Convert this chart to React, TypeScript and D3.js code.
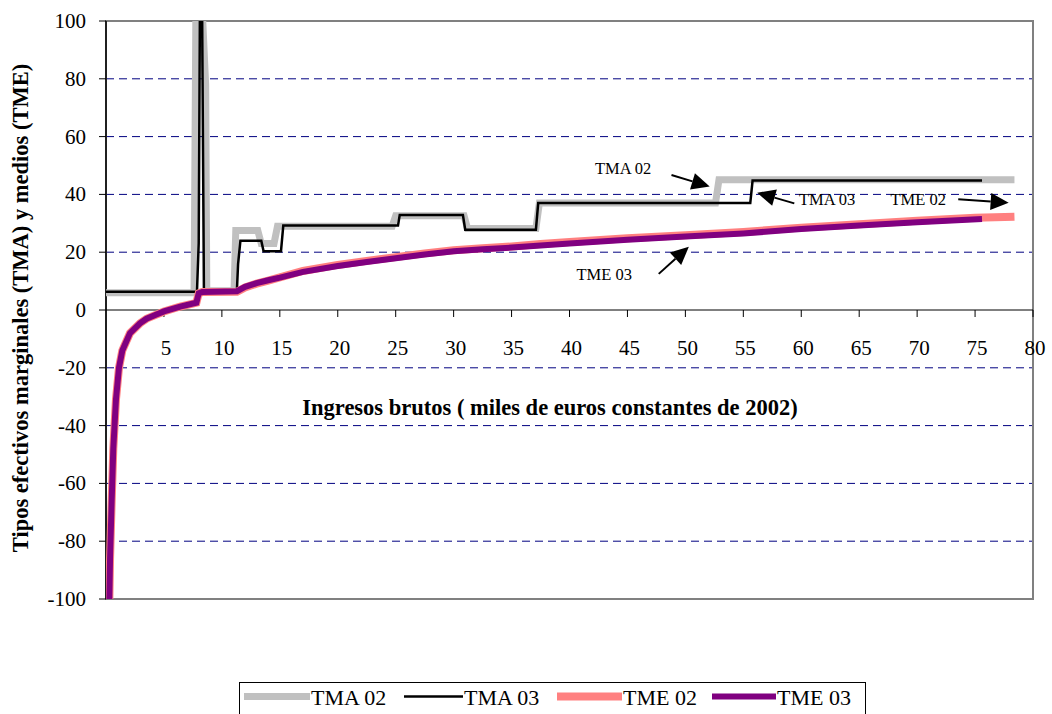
import React from "react";
import * as d3 from "d3";

// ---- data ----
const tma02X = [0, 7.6, 7.75, 8.35, 8.6, 8.7, 11.05, 11.2, 13.1, 13.4, 14.5, 14.8, 24.7, 25.0, 30.9, 31.2, 37.1, 37.4, 52.6, 52.9, 78.4];
const tma02Y = [6, 6, 100, 100, 78, 6.7, 6.7, 27.5, 27.5, 23, 23, 29, 29, 32.6, 32.6, 28.2, 28.2, 37, 37, 45.1, 45.1];

const tma03X = [0, 7.85, 8.0, 8.1, 8.3, 8.45, 11.3, 11.4, 11.6, 13.4, 13.6, 15.1, 15.3, 25.2, 25.35, 30.8, 31.0, 37.1, 37.3, 55.6, 55.8, 75.6];
const tma03Y = [6.3, 6.3, 23, 100, 100, 7, 7, 16, 24, 24, 20.3, 20.3, 29.2, 29.2, 32.9, 32.9, 27.8, 27.8, 37, 37, 44.8, 44.8];

const tme03X = [0.29, 0.35, 0.49, 0.63, 0.86, 1.12, 1.41, 2.07, 2.93, 3.5, 4.4, 5, 6.4, 7.8, 8.0, 8.3, 11.3, 12, 13, 14, 15, 17, 20, 22.5, 25, 27.5, 30, 32.5, 35, 37.5, 40, 45, 50, 55, 60, 65, 70, 75.6];
const tme03Y = [-100, -86, -66, -48, -31, -20, -14, -8, -4.6, -3, -1.5, -0.5, 1.2, 2.5, 5.8, 6.2, 6.5, 8, 9.3, 10.3, 11.2, 13.2, 15.2, 16.6, 17.9, 19.2, 20.3, 21.0, 21.6, 22.3, 23.0, 24.3, 25.4, 26.5, 28.0, 29.2, 30.4, 31.5];

const tme02X = [0.29, 0.35, 0.49, 0.63, 0.86, 1.12, 1.41, 2.07, 2.93, 3.5, 4.4, 5, 6.4, 7.8, 8.0, 8.3, 11.3, 12, 13, 14, 15, 17, 20, 22.5, 25, 27.5, 30, 32.5, 35, 37.5, 40, 45, 50, 55, 60, 65, 70, 75, 78.4];
const tme02Y = [-100, -86, -66, -48, -31, -20, -14, -8, -4.6, -3, -1.5, -0.5, 1.2, 2.5, 5.8, 6.2, 6.3, 7.8, 9.1, 10.2, 11.3, 13.5, 15.6, 17.0, 18.3, 19.6, 20.7, 21.4, 22.0, 22.8, 23.5, 24.8, 25.9, 27.0, 28.5, 29.7, 30.9, 31.9, 32.3];

const xTicks = [5, 10, 15, 20, 25, 30, 35, 40, 45, 50, 55, 60, 65, 70, 75, 80];
const yTicks = [100, 80, 60, 40, 20, 0, -20, -40, -60, -80, -100];
const gridValues = [80, 60, 40, 20, -20, -40, -60, -80];

const seriesNames = ["TMA 02", "TMA 03", "TME 02", "TME 03"];
const seriesColors = ["#C0C0C0", "#000000", "#FF8080", "#800080"];
const seriesWidths = [7, 2.5, 8, 6];

// annotations: label, text anchor point (data), arrow start, arrow end (data)
const annLabels = ["TMA 02", "TMA 03", "TME 02", "TME 03"];
const annTextX = [42.2, 59.8, 67.7, 40.6];
const annTextY = [47.1, 36.3, 36.3, 10.4];
const annFromX = [48.8, 59.4, 73.55, 47.7];
const annFromY = [46.7, 36.9, 38.3, 12.5];
const annToX = [52.1, 56.2, 77.9, 50.3];
const annToY = [42.7, 40.6, 37.1, 21.9];

const xTitle = "Ingresos brutos ( miles de euros constantes de 2002)";
const yTitle = "Tipos efectivos marginales (TMA) y medios (TME)";

// ---- layout ----
const W = 1052, H = 714;
const L = 106, R = 1033, T = 21, B = 599;
const FONT = "'Liberation Serif', 'Times New Roman', serif";

export default function App() {
  const x = d3.scaleLinear().domain([0, 80]).range([L, R]);
  const y = d3.scaleLinear().domain([-100, 100]).range([B, T]);
  const line = d3.line<[number, number]>().x(d => x(d[0])).y(d => y(d[1]));

  const series = [
    tma02X.map((v, i) => [v, tma02Y[i]] as [number, number]),
    tma03X.map((v, i) => [v, tma03Y[i]] as [number, number]),
    tme02X.map((v, i) => [v, tme02Y[i]] as [number, number]),
    tme03X.map((v, i) => [v, tme03Y[i]] as [number, number]),
  ];

  const arrows = annLabels.map((lab, i) => {
    const x1 = x(annFromX[i]), y1 = y(annFromY[i]);
    const x2 = x(annToX[i]), y2 = y(annToY[i]);
    const dx = x2 - x1, dy = y2 - y1;
    const len = Math.hypot(dx, dy);
    const ux = dx / len, uy = dy / len;
    const hl = 18, hw = 8.5;
    const bx = x2 - ux * hl, by = y2 - uy * hl;
    const pts = [
      [x2, y2],
      [bx - uy * hw, by + ux * hw],
      [bx + uy * hw, by - ux * hw],
    ];
    return { lab, x1, y1, bx, by, pts, tx: x(annTextX[i]), ty: y(annTextY[i]) };
  });

  // legend layout
  const legSwX = [244, 404, 557, 712];
  const legSwW = [66, 59, 65, 64];

  return (
    <svg width={W} height={H} style={{ position: "fixed", left: 0, top: 0, background: "#fff" }} fontFamily={FONT}>
      <defs>
        <clipPath id="plotclip">
          <rect x={L} y={T} width={R - L} height={B - T} />
        </clipPath>
      </defs>
      <rect x={0} y={0} width={W} height={H} fill="#fff" />
      {/* gridlines */}
      {gridValues.map(v => (
        <line key={v} x1={L} x2={R} y1={y(v)} y2={y(v)} stroke="#000080" strokeWidth={1} strokeDasharray="8,5" />
      ))}
      {/* plot frame */}
      <rect x={L} y={T} width={R - L} height={B - T} fill="none" stroke="#808080" strokeWidth={2} />
      {/* y axis */}
      <line x1={L} x2={L} y1={T} y2={B} stroke="#000" strokeWidth={1.5} />
      {yTicks.map(v => (
        <g key={v}>
          <line x1={L - 7} x2={L} y1={y(v)} y2={y(v)} stroke="#000" strokeWidth={1} />
          <text x={L - 20} y={y(v) + 7} textAnchor="end" fontSize={21}>{v}</text>
        </g>
      ))}
      {/* x axis at zero */}
      <line x1={L} x2={R} y1={y(0)} y2={y(0)} stroke="#000" strokeWidth={1} />
      {xTicks.map(v => (
        <g key={v}>
          <line x1={x(v)} x2={x(v)} y1={y(0)} y2={y(0) + 7} stroke="#000" strokeWidth={1} />
          <text x={x(v) + 2} y={y(0) + 45} textAnchor="middle" fontSize={21}>{v}</text>
        </g>
      ))}
      {/* series */}
      <g clipPath="url(#plotclip)">
        {series.map((s, i) => (
          <path key={i} d={line(s) || ""} fill="none" stroke={seriesColors[i]} strokeWidth={seriesWidths[i]} strokeLinejoin="miter" strokeMiterlimit={2} />
        ))}
      </g>
      {/* annotations */}
      {arrows.map(a => (
        <g key={a.lab}>
          <text x={a.tx} y={a.ty} fontSize={16.5}>{a.lab}</text>
          <line x1={a.x1} y1={a.y1} x2={a.bx} y2={a.by} stroke="#000" strokeWidth={2} />
          <polygon points={a.pts.map(p => p.join(",")).join(" ")} fill="#000" />
        </g>
      ))}
      {/* axis titles */}
      <text x={550} y={415} textAnchor="middle" fontSize={22.5} fontWeight="bold">{xTitle}</text>
      <text transform={`translate(28,${308}) rotate(-90)`} textAnchor="middle" fontSize={22.5} fontWeight="bold">{yTitle}</text>
      {/* legend */}
      <rect x={239.5} y={682.5} width={626} height={40} fill="#fff" stroke="#000" strokeWidth={1} />
      {seriesNames.map((n, i) => (
        <g key={n}>
          <line x1={legSwX[i]} x2={legSwX[i] + legSwW[i]} y1={696.5} y2={696.5} stroke={seriesColors[i]} strokeWidth={seriesWidths[i]} />
          <text x={legSwX[i] + legSwW[i] + 1} y={705} fontSize={22}>{n}</text>
        </g>
      ))}
    </svg>
  );
}
